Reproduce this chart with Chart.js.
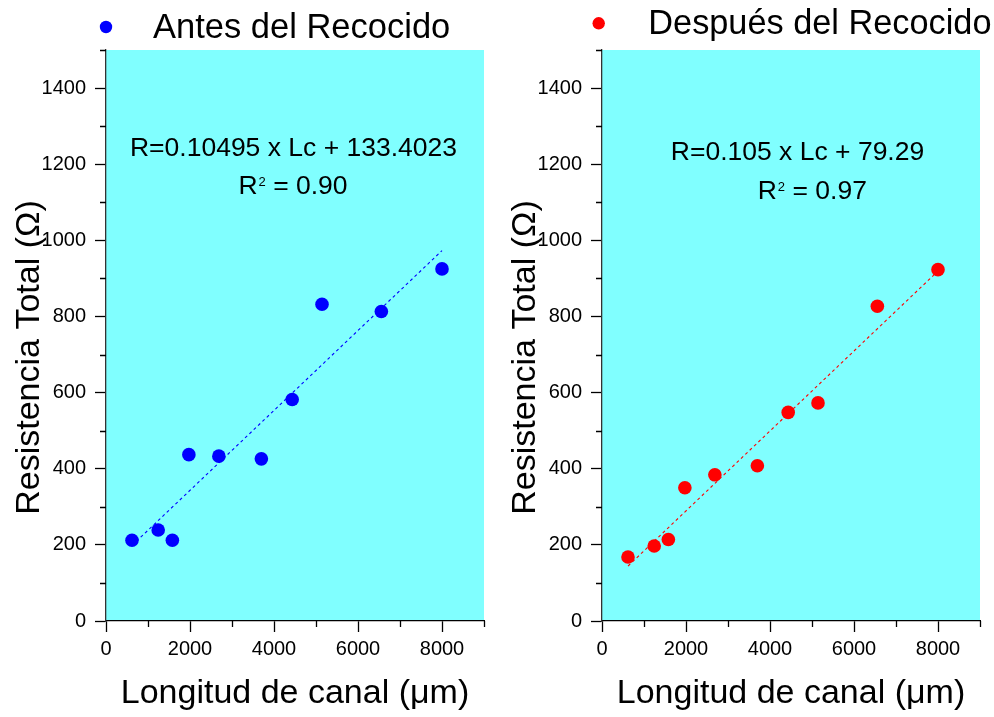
<!DOCTYPE html>
<html>
<head>
<meta charset="utf-8">
<script src="https://cdn.jsdelivr.net/npm/chart.js@4.4.1/dist/chart.umd.min.js"></script>
<style>
  html, body { margin: 0; padding: 0; background: #ffffff; }
  #wrap { position: relative; width: 994px; height: 717px; overflow: hidden; }
  .panel { position: absolute; top: 0; width: 497px; height: 717px; }
  canvas { display: block; }
</style>
</head>
<body>
<div id="wrap">
  <div class="panel" style="left:0px"><canvas id="antes" width="497" height="717"></canvas></div>
  <div class="panel" style="left:496px"><canvas id="despues" width="497" height="717"></canvas></div>
</div>
<script>
// Channel length (µm) of each device, shared by both measurements
const channelLength = [619, 1243, 1580, 1973, 2687, 3699, 4433, 5143, 6556, 8000];
// Total resistance (Ω) before and after annealing
const resistanceBefore = [212, 239, 212, 437, 433, 426, 582, 832, 813, 925];
const resistanceAfter  = [168, 197, 214, 350, 384, 408, 548, 573, 827, 923];

const seriesLabels = ['Antes del Recocido', 'Después del Recocido'];
// Linear fit R = slope * Lc + intercept for each series
const fitSlope = [0.10495, 0.105];
const fitIntercept = [133.4023, 79.29];
const equationText = ['R=0.10495 x Lc + 133.4023', 'R=0.105 x Lc + 79.29'];
const r2Value = ['0.90', '0.97'];

const xTicks = [0, 2000, 4000, 6000, 8000];
const xMinorTicks = [1000, 3000, 5000, 7000, 9000];
const yTicks = [0, 200, 400, 600, 800, 1000, 1200, 1400];
const yMinorTicks = [100, 300, 500, 700, 900, 1100, 1300, 1500];
const xTitle = 'Longitud de canal (\u03BCm)';
const yTitle = 'Resistencia Total (\u03A9)';

const FONT = '"Liberation Sans", Arial, Helvetica, sans-serif';
const PLOT_BG = '#80FFFF';

// Fills the plotting area
const plotBackground = {
  id: 'plotBackground',
  beforeDraw(chart) {
    const { ctx, chartArea: a } = chart;
    ctx.save();
    ctx.fillStyle = PLOT_BG;
    ctx.fillRect(a.left, a.top, a.right - a.left, a.bottom - a.top);
    ctx.restore();
  }
};

// Short minor tick marks between the labelled ticks
const minorTicks = {
  id: 'minorTicks',
  afterDraw(chart) {
    const { ctx, chartArea: a, scales } = chart;
    ctx.save();
    ctx.strokeStyle = '#000';
    ctx.lineWidth = 1.3;
    ctx.beginPath();
    xMinorTicks.forEach(v => {
      const px = Math.round(scales.x.getPixelForValue(v)) + 0.5;
      ctx.moveTo(px, a.bottom);
      ctx.lineTo(px, a.bottom + 6);
    });
    yMinorTicks.forEach(v => {
      const py = Math.round(scales.y.getPixelForValue(v)) + 0.5;
      ctx.moveTo(a.left - 6, py);
      ctx.lineTo(a.left, py);
    });
    ctx.stroke();
    ctx.restore();
  }
};

// Series key above the plot: coloured dot + dataset label
const seriesKey = {
  id: 'seriesKey',
  afterDraw(chart, args, opts) {
    const { ctx } = chart;
    const ds = chart.data.datasets[0];
    ctx.save();
    ctx.fillStyle = ds.backgroundColor;
    ctx.beginPath();
    ctx.arc(opts.dotX, opts.dotY, 6.2, 0, Math.PI * 2);
    ctx.fill();
    ctx.fillStyle = '#000';
    ctx.font = opts.size + 'px ' + FONT;
    ctx.textAlign = 'left';
    ctx.textBaseline = 'alphabetic';
    ctx.fillText(ds.label, opts.textX, opts.textY);
    ctx.restore();
  }
};

// Fit equation and coefficient of determination inside the plot
const fitCaption = {
  id: 'fitCaption',
  afterDraw(chart, args, opts) {
    const { ctx } = chart;
    const big = opts.size + 'px ' + FONT;
    const small = opts.supSize + 'px ' + FONT;
    ctx.save();
    ctx.fillStyle = '#000';
    ctx.textBaseline = 'alphabetic';
    ctx.font = big;
    ctx.textAlign = 'center';
    ctx.fillText(opts.equation, opts.eqX, opts.eqY);
    // "R² = value" built from pieces so the exponent sits raised
    ctx.textAlign = 'left';
    const wR = ctx.measureText('R').width;
    const rest = ' = ' + opts.r2;
    const wRest = ctx.measureText(rest).width;
    ctx.font = small;
    const wSup = ctx.measureText('2').width;
    const total = wR + 1 + wSup + wRest;
    let x = opts.r2X - total / 2;
    ctx.font = big;
    ctx.fillText('R', x, opts.r2Y);
    x += wR + 1;
    ctx.font = small;
    ctx.fillText('2', x, opts.r2Y - opts.supRise);
    x += wSup;
    ctx.font = big;
    ctx.fillText(rest, x, opts.r2Y);
    ctx.restore();
  }
};

// Rotated y-axis caption
const yCaption = {
  id: 'yCaption',
  afterDraw(chart, args, opts) {
    const { ctx } = chart;
    ctx.save();
    ctx.translate(opts.x, opts.y);
    ctx.rotate(-Math.PI / 2);
    ctx.fillStyle = '#000';
    ctx.font = opts.size + 'px ' + FONT;
    ctx.textAlign = 'center';
    ctx.textBaseline = 'alphabetic';
    ctx.fillText(yTitle, 0, 0);
    ctx.restore();
  }
};

const plainNumber = v => String(v);

function buildPanel(canvasId, idx, color, values, place) {
  const xMin = Math.min(...channelLength);
  const xMax = Math.max(...channelLength);
  const fitLine = [xMin, xMax].map(x => ({ x, y: fitSlope[idx] * x + fitIntercept[idx] }));
  const points = channelLength.map((x, i) => ({ x, y: values[i] }));

  return new Chart(document.getElementById(canvasId), {
    type: 'scatter',
    data: {
      datasets: [
        {
          label: seriesLabels[idx],
          data: points,
          backgroundColor: color,
          borderColor: color,
          borderWidth: 0,
          pointRadius: 6.8,
          pointHoverRadius: 6.8,
          order: 1
        },
        {
          label: 'ajuste',
          type: 'line',
          data: fitLine,
          borderColor: color,
          borderWidth: 1.1,
          borderDash: [3, 3],
          pointRadius: 0,
          fill: false,
          order: 2
        }
      ]
    },
    options: {
      responsive: false,
      animation: false,
      events: [],
      layout: { padding: { top: 50, right: 13, left: 0, bottom: 0 } },
      plugins: {
        legend: { display: false },
        tooltip: { enabled: false },
        seriesKey: place.key,
        fitCaption: Object.assign({ equation: equationText[idx], r2: r2Value[idx] }, place.caption),
        yCaption: { x: 38.5, y: 357.5, size: 34 }
      },
      scales: {
        x: {
          type: 'linear',
          position: 'bottom',
          min: 0,
          max: 9000,
          afterBuildTicks: s => { s.ticks = xTicks.map(v => ({ value: v })); },
          afterFit: s => { s.height = 96; },
          grid: { drawOnChartArea: false, tickLength: 11, tickColor: '#000', tickWidth: 1.3 },
          border: { color: '#000', width: 1.3 },
          ticks: { color: '#000', font: { family: FONT, size: 20 }, padding: 5, maxRotation: 0, autoSkip: false, callback: plainNumber },
          title: { display: true, text: xTitle, color: '#000', font: { family: FONT, size: 34 }, padding: { top: 0, bottom: 2.5 } }
        },
        y: {
          type: 'linear',
          position: 'left',
          min: 0,
          max: 1500,
          afterBuildTicks: s => { s.ticks = yTicks.map(v => ({ value: v })); },
          afterFit: s => { s.width = 106; },
          grid: { drawOnChartArea: false, tickLength: 11, tickColor: '#000', tickWidth: 1.3 },
          border: { color: '#333', width: 1.3 },
          ticks: { color: '#000', font: { family: FONT, size: 20 }, padding: 9, autoSkip: false, callback: plainNumber }
        }
      }
    },
    plugins: [plotBackground, minorTicks, seriesKey, fitCaption, yCaption]
  });
}

buildPanel('antes', 0, '#0000FF', resistanceBefore, {
  key: { dotX: 106, dotY: 27, textX: 153, textY: 38.3, size: 34.5 },
  caption: { eqX: 293.5, eqY: 155.7, r2X: 293, r2Y: 194, size: 26.5, supSize: 13, supRise: 8 }
});
buildPanel('despues', 1, '#FF0000', resistanceAfter, {
  key: { dotX: 102.7, dotY: 23.3, textX: 152.3, textY: 34.3, size: 34.3 },
  caption: { eqX: 301.5, eqY: 160, r2X: 316.3, r2Y: 199, size: 26.5, supSize: 13, supRise: 8 }
});
</script>
</body>
</html>
